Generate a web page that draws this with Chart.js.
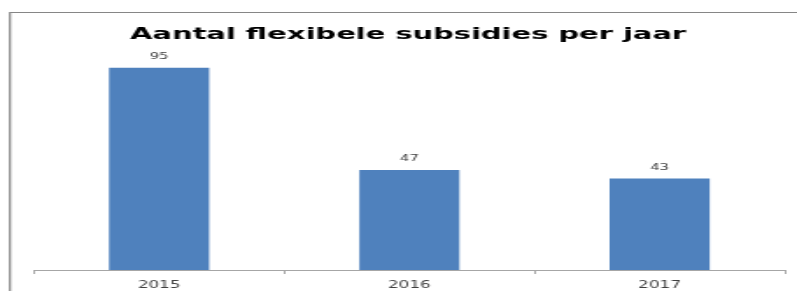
<!DOCTYPE html>
<html>
<head>
<meta charset="utf-8">
<script src="https://cdn.jsdelivr.net/npm/chart.js@4"></script>
<style>
  html, body { margin: 0; padding: 0; background: #fff; overflow: hidden; }
  #c { display: block; }
</style>
</head>
<body>
<!-- the reference is stretched horizontally, so the canvas is drawn narrow and widened -->
<canvas id="c" width="455" height="291" style="width:797px;height:291px"></canvas>
<script>
const years = ['2015', '2016', '2017'];
const counts = [95, 47, 43];
const titleText = 'Aantal flexibele subsidies per jaar';

// frame, title and value labels
const extras = {
  id: 'extras',
  beforeDraw(chart) {
    const ctx = chart.ctx;
    ctx.save();
    ctx.strokeStyle = '#868686';
    ctx.lineWidth = 1.2;
    ctx.beginPath();
    ctx.moveTo(5.7, 291);
    ctx.lineTo(5.7, 12.5);
    ctx.lineTo(455, 12.5);
    ctx.stroke();
    ctx.fillStyle = '#000';
    ctx.font = 'bold 16.5px "DejaVu Sans"';
    ctx.textAlign = 'center';
    ctx.textBaseline = 'alphabetic';
    ctx.fillText(titleText, 233, 39);
    ctx.restore();
  },
  afterDatasetsDraw(chart) {
    const ctx = chart.ctx;
    const meta = chart.getDatasetMeta(0);
    ctx.save();
    ctx.fillStyle = '#404040';
    ctx.font = '8.5px "DejaVu Sans"';
    ctx.textAlign = 'center';
    ctx.textBaseline = 'alphabetic';
    meta.data.forEach((bar, i) => {
      ctx.fillText(String(counts[i]), bar.x, bar.y - 8.5);
    });
    ctx.restore();
  }
};

new Chart(document.getElementById('c'), {
  type: 'bar',
  data: {
    labels: years,
    datasets: [{
      data: counts,
      backgroundColor: '#4F81BD',
      categoryPercentage: 1,
      barPercentage: 0.4
    }]
  },
  options: {
    responsive: false,
    devicePixelRatio: 1,
    animation: false,
    layout: { padding: { left: 19.4, right: 7, top: 57, bottom: 0 } },
    plugins: { legend: { display: false }, title: { display: false }, tooltip: { enabled: false } },
    scales: {
      y: { display: false, min: 0, max: 100 },
      x: {
        afterFit(scale) { scale.height = 21; },
        grid: { drawOnChartArea: false, drawTicks: true, tickLength: 4, color: '#a6a6a6' },
        border: { color: '#a6a6a6' },
        ticks: { color: '#404040', font: { family: 'DejaVu Sans', size: 9.6 }, padding: 6 }
      }
    }
  },
  plugins: [extras]
});
</script>
</body>
</html>
